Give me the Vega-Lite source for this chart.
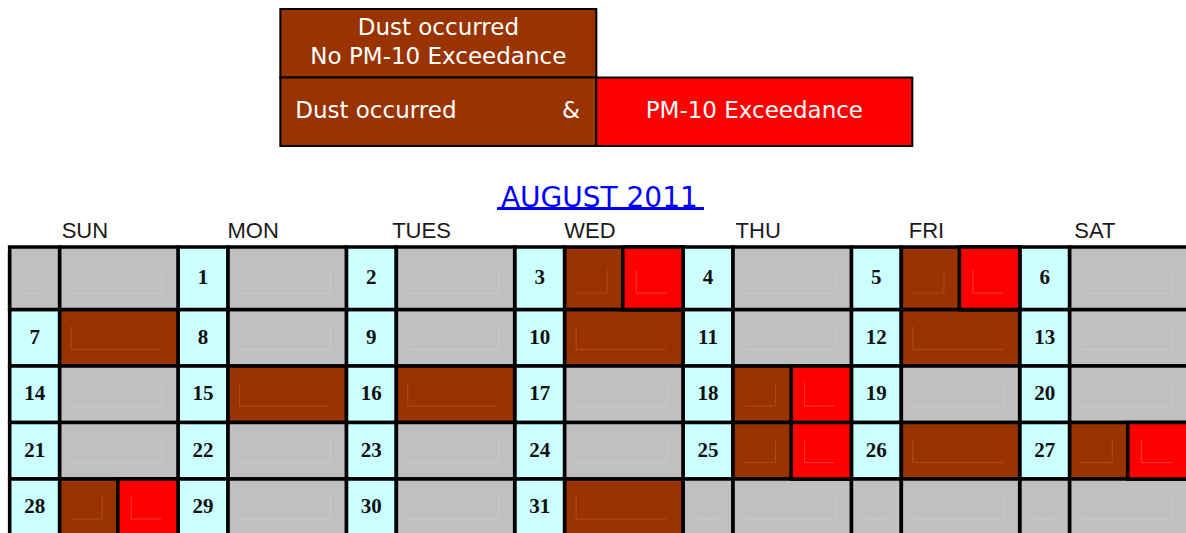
{
  "$schema": "https://vega.github.io/schema/vega-lite/v6.json",
  "background": "white",
  "padding": {"left": 7.7, "top": 8, "right": 0, "bottom": 0},
  "spacing": 37,
  "config": {"view": {"stroke": null}},
  "datasets": {
    "legend": [
      {"col": "Dust", "row": "a", "kind": "dust", "label": "Dust occurred\nNo PM-10 Exceedance"},
      {"col": "Dust", "row": "b", "kind": "dust", "label": "Dust occurred", "joiner": "&"},
      {"col": "PM10", "row": "b", "kind": "pm10", "label": "PM-10 Exceedance"}
    ],
    "days": [
      {"week": 0, "dow": "SUN", "day": null, "dust": false, "pm10": false},
      {"week": 0, "dow": "MON", "day": 1, "dust": false, "pm10": false},
      {"week": 0, "dow": "TUES", "day": 2, "dust": false, "pm10": false},
      {"week": 0, "dow": "WED", "day": 3, "dust": true, "pm10": true},
      {"week": 0, "dow": "THU", "day": 4, "dust": false, "pm10": false},
      {"week": 0, "dow": "FRI", "day": 5, "dust": true, "pm10": true},
      {"week": 0, "dow": "SAT", "day": 6, "dust": false, "pm10": false},
      {"week": 1, "dow": "SUN", "day": 7, "dust": true, "pm10": false},
      {"week": 1, "dow": "MON", "day": 8, "dust": false, "pm10": false},
      {"week": 1, "dow": "TUES", "day": 9, "dust": false, "pm10": false},
      {"week": 1, "dow": "WED", "day": 10, "dust": true, "pm10": false},
      {"week": 1, "dow": "THU", "day": 11, "dust": false, "pm10": false},
      {"week": 1, "dow": "FRI", "day": 12, "dust": true, "pm10": false},
      {"week": 1, "dow": "SAT", "day": 13, "dust": false, "pm10": false},
      {"week": 2, "dow": "SUN", "day": 14, "dust": false, "pm10": false},
      {"week": 2, "dow": "MON", "day": 15, "dust": true, "pm10": false},
      {"week": 2, "dow": "TUES", "day": 16, "dust": true, "pm10": false},
      {"week": 2, "dow": "WED", "day": 17, "dust": false, "pm10": false},
      {"week": 2, "dow": "THU", "day": 18, "dust": true, "pm10": true},
      {"week": 2, "dow": "FRI", "day": 19, "dust": false, "pm10": false},
      {"week": 2, "dow": "SAT", "day": 20, "dust": false, "pm10": false},
      {"week": 3, "dow": "SUN", "day": 21, "dust": false, "pm10": false},
      {"week": 3, "dow": "MON", "day": 22, "dust": false, "pm10": false},
      {"week": 3, "dow": "TUES", "day": 23, "dust": false, "pm10": false},
      {"week": 3, "dow": "WED", "day": 24, "dust": false, "pm10": false},
      {"week": 3, "dow": "THU", "day": 25, "dust": true, "pm10": true},
      {"week": 3, "dow": "FRI", "day": 26, "dust": true, "pm10": false},
      {"week": 3, "dow": "SAT", "day": 27, "dust": true, "pm10": true},
      {"week": 4, "dow": "SUN", "day": 28, "dust": true, "pm10": true},
      {"week": 4, "dow": "MON", "day": 29, "dust": false, "pm10": false},
      {"week": 4, "dow": "TUES", "day": 30, "dust": false, "pm10": false},
      {"week": 4, "dow": "WED", "day": 31, "dust": true, "pm10": false},
      {"week": 4, "dow": "THU", "day": null, "dust": false, "pm10": false},
      {"week": 4, "dow": "FRI", "day": null, "dust": false, "pm10": false},
      {"week": 4, "dow": "SAT", "day": null, "dust": false, "pm10": false}
    ]
  },
  "vconcat": [
    {
      "width": 1178.3,
      "height": 137,
      "data": {"name": "legend"},
      "encoding": {
        "x": {"field": "col", "type": "nominal", "axis": null,
              "scale": {"domain": ["Dust", "PM10"], "paddingInner": 0, "paddingOuter": 0.8644, "align": 0.4954}},
        "y": {"field": "row", "type": "nominal", "axis": null,
              "scale": {"domain": ["a", "b"], "paddingInner": 0, "paddingOuter": 0}}
      },
      "layer": [
        {
          "mark": {"type": "rect", "stroke": "black", "strokeWidth": 2},
          "encoding": {
            "fill": {"field": "kind", "type": "nominal", "legend": null,
                     "scale": {"domain": ["dust", "pm10"], "range": ["#993300", "#FF0000"]}}
          }
        },
        {
          "transform": [{"filter": "datum.row == 'a'"}],
          "mark": {"type": "text", "color": "white", "font": "DejaVu Sans", "fontSize": 23,
                   "lineBreak": "\n", "lineHeight": 29, "align": "center", "baseline": "middle", "dy": -15},
          "encoding": {"text": {"field": "label"}}
        },
        {
          "transform": [{"filter": "datum.col == 'PM10'"}],
          "mark": {"type": "text", "color": "white", "font": "DejaVu Sans", "fontSize": 23,
                   "align": "center", "baseline": "middle", "dy": -1},
          "encoding": {"text": {"field": "label"}}
        },
        {
          "transform": [{"filter": "datum.row == 'b' && datum.col == 'Dust'"}],
          "mark": {"type": "text", "color": "white", "font": "DejaVu Sans", "fontSize": 23,
                   "align": "left", "baseline": "middle", "dy": -1},
          "encoding": {
            "x": {"field": "col", "type": "nominal", "bandPosition": 0.047},
            "text": {"field": "label"}
          }
        },
        {
          "transform": [{"filter": "datum.joiner != null"}],
          "mark": {"type": "text", "color": "white", "font": "DejaVu Sans", "fontSize": 23,
                   "align": "center", "baseline": "middle", "dy": -1},
          "encoding": {
            "x": {"field": "col", "type": "nominal", "bandPosition": 0.92},
            "text": {"field": "joiner"}
          }
        }
      ]
    },
    {
      "width": 1178.3,
      "height": 282.5,
      "data": {"name": "days"},
      "encoding": {
        "x": {"field": "dow", "type": "nominal",
              "scale": {"domain": ["SUN", "MON", "TUES", "WED", "THU", "FRI", "SAT"], "paddingInner": 0, "paddingOuter": 0},
              "axis": {"orient": "top", "title": "AUGUST 2011", "ticks": false, "domain": false,
                       "labelAngle": 0, "labelFont": "Liberation Sans", "labelFontSize": 22, "labelColor": "#1a1a1a",
                       "labelPadding": 10.5, "labelOffset": -9,
                       "titleFont": "DejaVu Sans", "titleFontSize": 28, "titleFontWeight": "normal", "titleColor": "#0000FF",
                       "titleBaseline": "alphabetic", "titleY": -46.8}},
        "y": {"field": "week", "type": "ordinal", "axis": null,
              "scale": {"domain": [0, 1, 2, 3, 4], "paddingInner": 0, "paddingOuter": 0}}
      },
      "layer": [
        {
          "mark": {"type": "rect", "stroke": "black", "strokeWidth": 3.6},
          "encoding": {
            "x": {"field": "dow", "type": "nominal", "bandPosition": 0},
            "x2": {"field": "dow", "bandPosition": 0.297},
            "fill": {"condition": {"test": "datum.day != null", "value": "#CCFFFF"}, "value": "#C0C0C0"}
          }
        },
        {
          "mark": {"type": "rect", "stroke": "black", "strokeWidth": 3.6},
          "encoding": {
            "x": {"field": "dow", "type": "nominal", "bandPosition": 0.297},
            "x2": {"field": "dow", "bandPosition": 1},
            "fill": {"condition": {"test": "datum.dust", "value": "#993300"}, "value": "#C0C0C0"}
          }
        },
        {
          "transform": [{"filter": "datum.pm10"}],
          "mark": {"type": "rect", "stroke": "black", "strokeWidth": 3.6, "fill": "#FF0000"},
          "encoding": {
            "x": {"field": "dow", "type": "nominal", "bandPosition": 0.642},
            "x2": {"field": "dow", "bandPosition": 1}
          }
        },
        {
          "transform": [{"filter": "datum.week == 0"}],
          "mark": {"type": "rect", "stroke": "black", "strokeWidth": 3.6, "yOffset": -6},
          "encoding": {
            "x": {"field": "dow", "type": "nominal", "bandPosition": 0},
            "x2": {"field": "dow", "bandPosition": 0.297},
            "y": {"field": "week", "type": "ordinal", "bandPosition": 0},
            "y2": {"field": "week", "bandPosition": 1},
            "fill": {"condition": {"test": "datum.day != null", "value": "#CCFFFF"}, "value": "#C0C0C0"}
          }
        },
        {
          "transform": [{"filter": "datum.week == 0"}],
          "mark": {"type": "rect", "stroke": "black", "strokeWidth": 3.6, "yOffset": -6},
          "encoding": {
            "x": {"field": "dow", "type": "nominal", "bandPosition": 0.297},
            "x2": {"field": "dow", "bandPosition": 1},
            "y": {"field": "week", "type": "ordinal", "bandPosition": 0},
            "y2": {"field": "week", "bandPosition": 1},
            "fill": {"condition": {"test": "datum.dust", "value": "#993300"}, "value": "#C0C0C0"}
          }
        },
        {
          "transform": [{"filter": "datum.week == 0 && datum.pm10"}],
          "mark": {"type": "rect", "stroke": "black", "strokeWidth": 3.6, "fill": "#FF0000", "yOffset": -6},
          "encoding": {
            "x": {"field": "dow", "type": "nominal", "bandPosition": 0.642},
            "x2": {"field": "dow", "bandPosition": 1},
            "y": {"field": "week", "type": "ordinal", "bandPosition": 0},
            "y2": {"field": "week", "bandPosition": 1}
          }
        },
        {
          "transform": [{"filter": "!datum.dust"}],
          "mark": {"type": "rule", "color": "#C9C9C9", "strokeWidth": 1},
          "encoding": {
            "x": {"field": "dow", "type": "nominal", "bandPosition": 0.368},
            "x2": {"field": "dow", "bandPosition": 0.905},
            "y": {"field": "week", "type": "ordinal", "bandPosition": 0.71}
          }
        },
        {
          "transform": [{"filter": "!datum.dust"}],
          "mark": {"type": "rule", "color": "#C9C9C9", "strokeWidth": 1},
          "encoding": {
            "x": {"field": "dow", "type": "nominal", "bandPosition": 0.905},
            "y": {"field": "week", "type": "ordinal", "bandPosition": 0.3},
            "y2": {"field": "week", "bandPosition": 0.71}
          }
        },
        {
          "transform": [{"filter": "datum.day == null"}],
          "mark": {"type": "rule", "color": "#C9C9C9", "strokeWidth": 1},
          "encoding": {
            "x": {"field": "dow", "type": "nominal", "bandPosition": 0.086},
            "x2": {"field": "dow", "bandPosition": 0.21},
            "y": {"field": "week", "type": "ordinal", "bandPosition": 0.71}
          }
        },
        {
          "transform": [{"filter": "datum.dust && !datum.pm10"}],
          "mark": {"type": "rule", "color": "#A84E25", "strokeWidth": 1},
          "encoding": {
            "x": {"field": "dow", "type": "nominal", "bandPosition": 0.365},
            "x2": {"field": "dow", "bandPosition": 0.9},
            "y": {"field": "week", "type": "ordinal", "bandPosition": 0.71}
          }
        },
        {
          "transform": [{"filter": "datum.dust && !datum.pm10"}],
          "mark": {"type": "rule", "color": "#A84E25", "strokeWidth": 1},
          "encoding": {
            "x": {"field": "dow", "type": "nominal", "bandPosition": 0.365},
            "y": {"field": "week", "type": "ordinal", "bandPosition": 0.3},
            "y2": {"field": "week", "bandPosition": 0.71}
          }
        },
        {
          "transform": [{"filter": "datum.pm10"}],
          "mark": {"type": "rule", "color": "#A84E25", "strokeWidth": 1},
          "encoding": {
            "x": {"field": "dow", "type": "nominal", "bandPosition": 0.365},
            "x2": {"field": "dow", "bandPosition": 0.55},
            "y": {"field": "week", "type": "ordinal", "bandPosition": 0.71}
          }
        },
        {
          "transform": [{"filter": "datum.pm10"}],
          "mark": {"type": "rule", "color": "#A84E25", "strokeWidth": 1},
          "encoding": {
            "x": {"field": "dow", "type": "nominal", "bandPosition": 0.55},
            "y": {"field": "week", "type": "ordinal", "bandPosition": 0.3},
            "y2": {"field": "week", "bandPosition": 0.71}
          }
        },
        {
          "transform": [{"filter": "datum.pm10"}],
          "mark": {"type": "rule", "color": "#FF3C3C", "strokeWidth": 1},
          "encoding": {
            "x": {"field": "dow", "type": "nominal", "bandPosition": 0.722},
            "x2": {"field": "dow", "bandPosition": 0.9},
            "y": {"field": "week", "type": "ordinal", "bandPosition": 0.71}
          }
        },
        {
          "transform": [{"filter": "datum.pm10"}],
          "mark": {"type": "rule", "color": "#FF3C3C", "strokeWidth": 1},
          "encoding": {
            "x": {"field": "dow", "type": "nominal", "bandPosition": 0.722},
            "y": {"field": "week", "type": "ordinal", "bandPosition": 0.3},
            "y2": {"field": "week", "bandPosition": 0.71}
          }
        },
        {
          "transform": [{"filter": "datum.day != null && datum.week != 0"}],
          "mark": {"type": "text", "font": "Liberation Serif", "fontWeight": "bold", "fontSize": 21,
                   "color": "#111111", "align": "center", "baseline": "middle"},
          "encoding": {
            "x": {"field": "dow", "type": "nominal", "bandPosition": 0.1485},
            "text": {"field": "day", "type": "quantitative"}
          }
        },
        {
          "transform": [{"filter": "datum.day != null && datum.week == 0"}],
          "mark": {"type": "text", "font": "Liberation Serif", "fontWeight": "bold", "fontSize": 21,
                   "color": "#111111", "align": "center", "baseline": "middle", "yOffset": -3},
          "encoding": {
            "x": {"field": "dow", "type": "nominal", "bandPosition": 0.1485},
            "text": {"field": "day", "type": "quantitative"}
          }
        },
        {
          "mark": {"type": "rule", "color": "#0000FF", "strokeWidth": 2, "yOffset": -44.2},
          "encoding": {
            "x": {"datum": "TUES", "bandPosition": 0.9},
            "x2": {"datum": "THU", "bandPosition": 0.122},
            "y": {"datum": 0, "bandPosition": 0}
          }
        }
      ]
    }
  ]
}
